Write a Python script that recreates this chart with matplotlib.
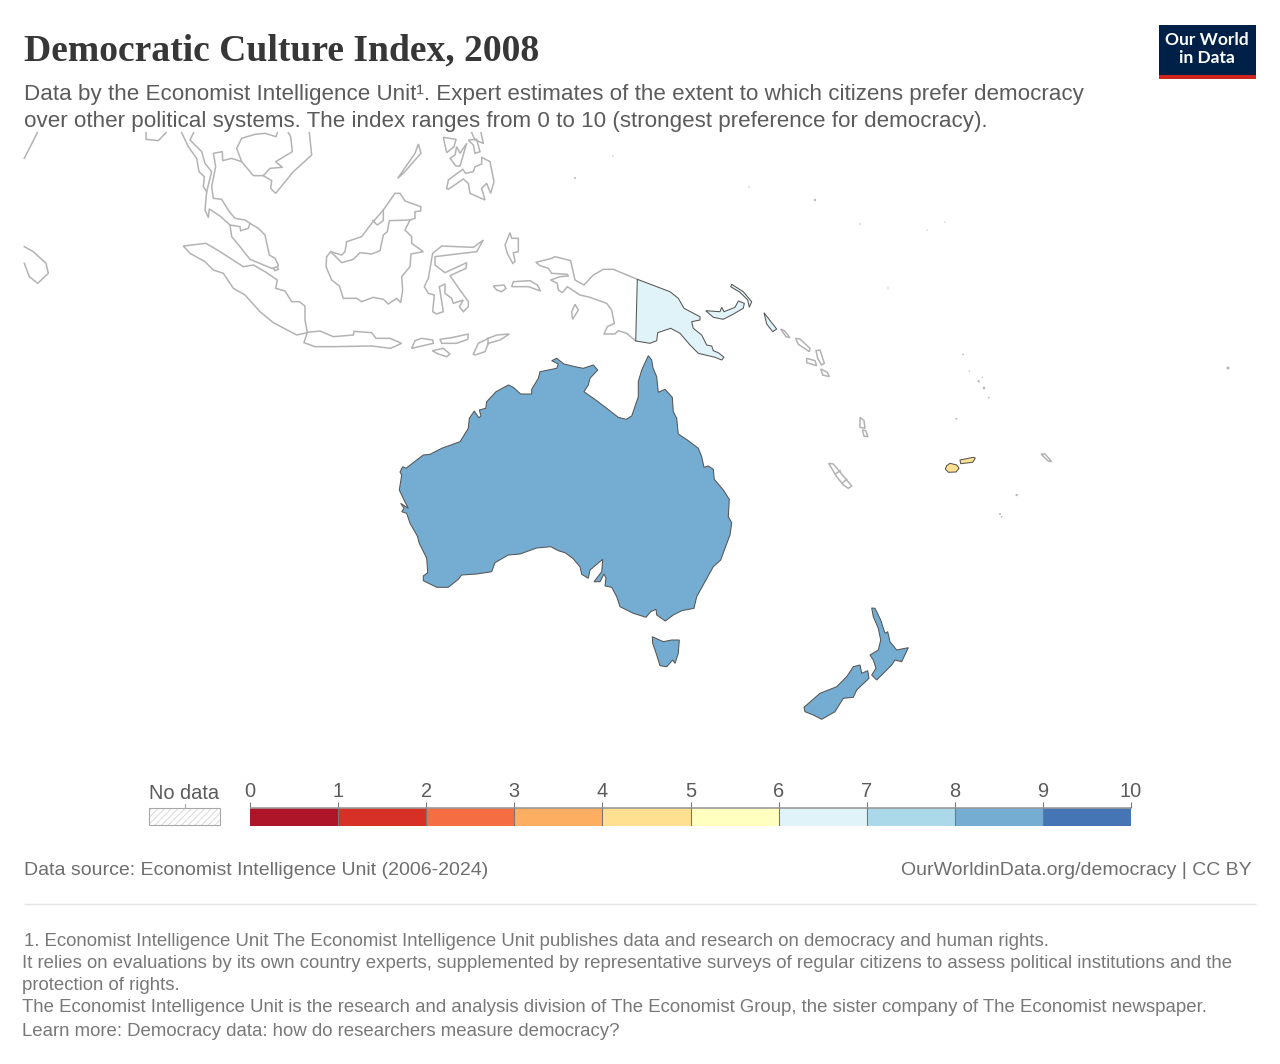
import matplotlib
matplotlib.use("Agg")
import matplotlib.pyplot as plt
import numpy as np
from matplotlib.patches import Polygon, Rectangle

country_values = {"Australia": 8.75, "New Zealand": 8.75, "Papua New Guinea": 6.25, "Fiji": 4.75}
bin_edges = [0, 1, 2, 3, 4, 5, 6, 7, 8, 9, 10]
bin_colors = ["#ae1529", "#d73027", "#f46d43", "#fdae61", "#fee090",
              "#ffffbf", "#e0f3f8", "#abd9e9", "#74add1", "#4575b4"]

# outlines
australia = [(648.3,355.7),(651.7,360),(653,368),(656.7,376.7),(658.3,392.3),(665,389.3),(672.3,397.3),(673.3,411.7),
    (676.7,418.3),(678.3,434),(688.3,440.7),(698.3,448.3),(701.7,456.7),(704,467.3),(708.3,466),(713.3,469.3),
    (714.3,479.3),(723.3,490),(729.3,499.3),(728.3,516.7),(731.7,522.7),(730,535),(725,548.3),(720.7,560),
    (713.3,566.7),(705,581.7),(696.7,596.7),(694,608.3),(681.7,610.7),(673.3,615),(665.3,621),(656.7,615),
    (656,609.3),(650.7,611.7),(646,617.3),(633.3,613.3),(620,606.7),(616.7,596.7),(611.7,587.3),(605,586),
    (606,578.3),(604,574),(600,581.7),(594,581.7),(601.7,571.7),(602.7,559.3),(590,570),(588.3,578.3),
    (581.7,574.3),(580,566.7),(572.7,558.3),(565,552.7),(558.3,550.7),(550.7,546.7),(536.7,548),(520,554),
    (508.3,555),(495,562.7),(491.7,571.7),(476.7,574),(461.7,575),(458.3,579.3),(448.3,587.3),(436.7,587.3),
    (423.3,580.7),(423.3,576),(427.7,572.7),(426.7,558.3),(419.3,543.3),(417.3,536),(410,523.3),(406.7,513.3),
    (401.7,511.7),(404,508.3),(400.7,503.3),(408.3,508.3),(405,502),(399.3,490),(401.7,475),(400,472),(402.7,466.7),
    (406,468.3),(416.7,460),(423.3,455),(430,454.3),(441.7,448.3),(460,441.7),(468.3,428.3),(469.3,418.3),
    (474.3,411),(478.7,417.7),(481,416),(479.3,410),(485.7,408.3),(486.7,401.7),(496,391.7),(508.3,385),
    (513.3,387.3),(520.7,394),(531.7,394),(531.7,389.3),(538.3,378.3),(540,371.7),(556.7,368.3),(558.3,364),
    (551.7,360.7),(556.7,358.3),(564,364),(575,366.7),(583.3,368.3),(593.3,365),(597.7,370),(590,378.3),
    (588.3,385),(584,391.7),(596.7,400.7),(606.7,408.3),(618.3,417.3),(626,419.3),(631.7,416),(638.3,396.7),
    (638.3,381.7),(641.7,370)]
tasmania = [(652.3,636.7),(663.3,641.7),(671.7,640),(679.3,640),(678.3,653.3),(675,663.3),(672.7,660),(666.7,666.7),
    (660,665.7),(656.7,655),(652.7,643.3)]
nz_north = [(871.7,608),(875,608.3),(880.7,620),(885,633.3),(887.7,631.7),(890,641.7),(896.7,650),(908.3,647.7),
    (901.7,661.7),(895,660),(891.7,665),(876.7,680),(871.7,675),(876,668.3),(873.3,660),(870,655),(878.3,650),
    (880.7,640),(878.3,628.3),(873.3,616.7)]
nz_south = [(860,665),(861.7,673.3),(867.7,670.7),(869,678.3),(856.7,690),(853.3,697.3),(843.3,698.3),(835,711.7),
    (821.7,719.3),(813.3,715),(805,711.7),(804,707.3),(820,693.3),(836.7,686.7),(846.7,676.7),(853.3,666.7)]
png_main = [(637.3,279.3),(670,291.7),(678.3,298.3),(684,308.3),(700,316.7),(700,320),(691.7,321.7),(693.3,328.3),
    (701.7,335),(706.7,345),(711.7,346),(713.3,350.7),(718.3,352.7),(724,357.3),(721.7,360),(715,357.3),(698.3,353.3),
    (690,345),(680,333.3),(670.7,328.3),(657.7,332.7),(656.7,340.7),(650,343.3),(635.7,341)]
png_new_britain = [(705.7,310.7),(720,311.7),(721.7,307.3),(724,311.7),(735,307.3),(738.3,301),(744.3,303.3),(743.3,308.3),
    (731.7,315),(723.3,319.3),(713.3,317.3)]
png_new_ireland = [(731.7,284.3),(743.3,291.7),(751.7,301.7),(749.3,307.3),(747.7,300),(740,292.3),(730.7,286.7)]
png_bougainville = [(764,312.7),(768.3,318.3),(776.7,329),(772.7,331.7),(766.7,324)]
fiji_viti = [(946.7,465.7),(950,463.3),(956.7,465),(959,468.3),(956,472),(948.3,472.3),(945.3,469)]
fiji_vanua = [(960,460),(973.3,457.3),(975.3,458),(972.7,462.3),(960.7,463.7)]

country_shapes = {"Australia": [australia, tasmania], "New Zealand": [nz_north, nz_south],
                  "Papua New Guinea": [png_main, png_new_britain, png_new_ireland, png_bougainville],
                  "Fiji": [fiji_viti, fiji_vanua]}

# no data countries, traced on 3x crops, each list with its crop corner
west_corner = (20, 130)
west_closed = [
    [(490,348),(558,340),(600,365),(670,410),(700,405),(735,425),(772,450),(767,475),(795,483),(815,515),(838,515),(855,528),
     (855,570),(862,608),(830,615),(760,578),(720,545),(675,495),(640,475),(610,430),(580,420),(555,395),(510,370)],
    [(630,285),(660,290),(662,302),(685,295),(690,280),(715,295),(735,315),(748,375),(765,385),(775,405),(772,412),(755,415),
     (690,388),(660,350),(635,320)],
    [(760,415),(772,410),(775,418),(765,422)],
]
west_open = [
    [(52,8),(13,85)],
    [(378,8),(378,28),(415,32),(438,8)],
    [(13,350),(40,365),(78,400),(85,430),(53,460),(28,440),(13,400)],
    [(485,8),(505,50),(530,85),(537,125),(553,140),(550,170),(560,185),(555,240),(565,262),(568,237),(600,258),(630,285)],
    [(690,280),(675,270),(645,265),(628,245),(605,208),(580,205),(575,170),(587,110),(580,70),(607,65),(608,92),(635,85),
     (665,95),(650,55),(665,25),(705,13),(735,10),(768,20),(772,8)],
    [(665,95),(700,137),(730,137),(750,115),(787,112),(767,95),(817,65),(812,20),(805,8)],
    [(730,137),(755,152),(752,175),(767,190),(820,125),(875,75),(868,8)],
    [(521,8),(510,30),(545,65),(555,100),(575,125),(560,185)],
]
mid_corner = (300, 130)
mid_closed = [
    [(92,365),(125,375),(135,365),(140,335),(185,320),(215,280),(250,240),(285,190),(300,190),(315,213),(363,230),(362,243),
     (345,245),(345,265),(330,270),(315,300),(335,320),(335,340),(370,365),(333,372),(330,410),(305,440),(308,480),(302,518),
     (290,505),(265,522),(250,508),(220,502),(185,515),(170,505),(130,505),(118,468),(95,450),(78,410),(80,380)],
    [(293,145),(345,70),(355,42),(363,70),(345,90),(310,130)],
    [(440,175),(445,150),(488,118),(497,130),(520,125),(525,110),(545,102),(545,82),(570,95),(582,155),(572,190),(560,160),
     (545,175),(555,210),(510,190),(505,160),(490,147),(445,178)],
    [(430,22),(468,28),(462,50),(440,68)],
    [(450,85),(465,75),(470,50),(480,70),(500,40),(480,108),(468,108)],
    [(505,30),(530,28),(540,65),(525,70),(520,45)],
    [(425,348),(520,352),(550,330),(530,365),(470,372),(405,380),(405,405),(435,428),(500,398),(498,415),(450,437),(480,480),
     (505,515),(505,530),(490,545),(478,530),(490,510),(460,520),(455,505),(435,490),(435,462),(418,470),(430,545),(410,552),
     (398,545),(403,495),(385,490),(373,470),(385,445),(398,370)],
    [(630,308),(635,325),(655,325),(655,365),(640,368),(645,395),(638,400),(622,370),(615,345)],
    [(22,607),(60,603),(100,620),(160,615),(162,604),(215,608),(228,625),(270,625),(305,640),(272,655),(215,648),(100,650),
     (45,650),(12,638)],
    [(335,655),(345,632),(365,625),(398,630),(400,640)],
    [(420,628),(460,622),(505,612),(503,628),(470,640),(425,640)],
    [(397,662),(430,655),(450,672),(440,680),(415,672)],
    [(520,672),(535,640),(565,625),(590,615),(628,612),(600,630),(565,640),(555,665),(525,675)],
    [(580,468),(612,465),(618,475),(605,485),(590,480)],
    [(635,470),(640,455),(690,452),(712,465),(722,483),(685,470)],
]
mid_open = [
    [(92,365),(125,398),(160,388),(180,368),(215,372),(240,362),(250,315),(262,305),(268,272),(330,270)],
    [(218,272),(232,285),(250,272),(250,240)],
    [(515,8),(525,30),(550,40),(543,8)],
    [(565,625),(565,643)],
]
papua_corner = (480, 220)
papua_closed = [
    [(285,253),(295,270),(278,298),(275,275)],
]
papua_open = [
    [(472,178),(400,148),(370,148),(340,165),(312,195),(285,180),(272,122),(225,110),(215,115),(168,127),(180,137),(205,145),
     (215,160),(262,163),(265,168),(240,170),(212,180),(232,190),(235,210),(247,218),(262,200),(300,225),(330,232),(380,250),
     (395,270),(403,310),(382,320),(372,342),(405,342),(415,332),(440,340),(467,363)],
]
pacific_corner = (750, 300)
pacific_closed = [
    [(92,87),(103,92),(120,113),(108,110)],
    [(137,115),(150,117),(180,145),(178,155),(145,133)],
    [(198,152),(210,150),(223,190),(215,195),(203,175)],
    [(170,175),(195,182),(200,197),(170,188)],
    [(212,207),(232,217),(238,230),(218,225)],
    [(330,352),(342,362),(345,385),(330,382)],
    [(337,390),(347,392),(354,410),(342,408)],
    [(236,490),(250,492),(305,558),(295,565),(280,555),(260,530)],
    [(873,462),(885,462),(905,485),(893,482)],
]
pacific_open = [
    [(256,522),(271,512)],
    [(276,550),(290,538)],
]
tiny_islands_x = [963,969.3,978.7,982.3,984,988.7,956.3,1016.7,1000,1001.7,1228,613,575,749,815,860,945,927,888]
tiny_islands_y = [354.3,371,381.3,377.3,388,397.7,418.7,495,514,516.7,368,156,178,187,200,224,222,230,288]
tiny_islands_size = [1.5,1,3,1,4,1.5,2,3,2,1.5,5,1,2,1,3,1,1,1,1]

title = "Democratic Culture Index, 2008"
subtitle = ["Data by the Economist Intelligence Unit¹. Expert estimates of the extent to which citizens prefer democracy",
            "over other political systems. The index ranges from 0 to 10 (strongest preference for democracy)."]
footnote = ["1. Economist Intelligence Unit The Economist Intelligence Unit publishes data and research on democracy and human rights.",
            "It relies on evaluations by its own country experts, supplemented by representative surveys of regular citizens to assess political institutions and the",
            "protection of rights.",
            "The Economist Intelligence Unit is the research and analysis division of The Economist Group, the sister company of The Economist newspaper.",
            "Learn more: Democracy data: how do researchers measure democracy?"]

plt.rcParams["font.family"] = ["Liberation Sans", "DejaVu Sans"]
plt.rcParams["hatch.linewidth"] = 0.8

def from_crop(points, corner):
    return [(corner[0] + x / 3, corner[1] + y / 3) for x, y in points]

fig = plt.figure(figsize=(12.8, 10.64), dpi=100)
ax = fig.add_axes([0, 0, 1, 1])
ax.set_xlim(0, 1280)
ax.set_ylim(1064, 0)
ax.axis("off")

grey_line = "#b3b3b3"
for corner, closed, opened in [(west_corner, west_closed, west_open), (mid_corner, mid_closed, mid_open),
                               (papua_corner, papua_closed, papua_open), (pacific_corner, pacific_closed, pacific_open)]:
    for shape in closed:
        ax.add_patch(Polygon(from_crop(shape, corner), closed=True, facecolor="white", edgecolor=grey_line, lw=1.1))
    for shape in opened:
        pts = np.array(from_crop(shape, corner))
        ax.plot(pts[:, 0], pts[:, 1], color=grey_line, lw=1.1, solid_joinstyle="round")
ax.scatter(tiny_islands_x, tiny_islands_y, s=tiny_islands_size, color="#b8b8b8", linewidths=0)

for name, shapes in country_shapes.items():
    color = bin_colors[np.digitize(country_values[name], bin_edges) - 1]
    for shape in shapes:
        ax.add_patch(Polygon(shape, closed=True, facecolor=color, edgecolor="#555555", lw=0.75, zorder=3))

ax.text(24, 60, title, fontsize=27.1, fontweight="bold", family="Liberation Serif", color="#373737")
for i, line in enumerate(subtitle):
    ax.text(24, 100 + i * 27, line, fontsize=16.1, color="#5b5b5b")

# logo
ax.add_patch(Rectangle((1159, 25), 96.5, 50, facecolor="#002147", edgecolor="none"))
ax.add_patch(Rectangle((1159, 75), 96.5, 3.5, facecolor="#ce261e", edgecolor="none"))
ax.text(1207, 40, "Our World", fontsize=12.5, fontweight="bold", family="Lato", color="white", ha="center", va="center")
ax.text(1207, 58, "in Data", fontsize=12.5, fontweight="bold", family="Lato", color="white", ha="center", va="center")

# no data swatch
ax.add_patch(Rectangle((149, 808), 71, 17, facecolor="white", edgecolor="#dcdcdc", hatch="/////", lw=0))
ax.add_patch(Rectangle((149, 808), 71, 17, facecolor="none", edgecolor="#a8a8a8", lw=0.8))
ax.plot([184.5, 184.5], [804, 808], color="#a8a8a8", lw=0.8)
ax.text(184, 799, "No data", fontsize=14.4, color="#5b5b5b", ha="center")

# colour legend on its own 0-10 scale
leg = fig.add_axes([250 / 1280, 1 - 826 / 1064, 881 / 1280, 18 / 1064])
leg.bar(bin_edges[:-1], [1] * 10, width=1, align="edge", color=bin_colors, edgecolor="none")
leg.set_xlim(0, 10)
leg.set_ylim(0, 1)
leg.set_yticks([])
leg.set_xticks(bin_edges)
leg.xaxis.tick_top()
leg.tick_params(axis="x", length=4, width=0.8, color="#777777", labelsize=14.4, labelcolor="#5b5b5b", pad=1)
for spine in leg.spines.values():
    spine.set_visible(False)
leg.hlines(1, 0, 10, color="#999999", lw=1.2, clip_on=False)
leg.vlines(bin_edges[1:-1], 0, 1, color="#777777", lw=0.8)

ax.text(24, 875, "Data source: Economist Intelligence Unit (2006-2024)", fontsize=14, color="#6e6e6e")
ax.text(1252, 875, "OurWorldinData.org/democracy | CC BY", fontsize=14, color="#6e6e6e", ha="right")
ax.plot([24, 1256], [903.5, 903.5], color="#e4e4e4", lw=1, solid_capstyle="butt")

foot_x = [24, 22.5, 22.5, 22.5, 22.5]
foot_y = [945.5, 967.5, 990.5, 1012.5, 1035.5]
for x, y, line in zip(foot_x, foot_y, footnote):
    ax.text(x, y, line, fontsize=13.43, color="#787878")

fig.savefig("out.png", dpi=100, facecolor="white")
